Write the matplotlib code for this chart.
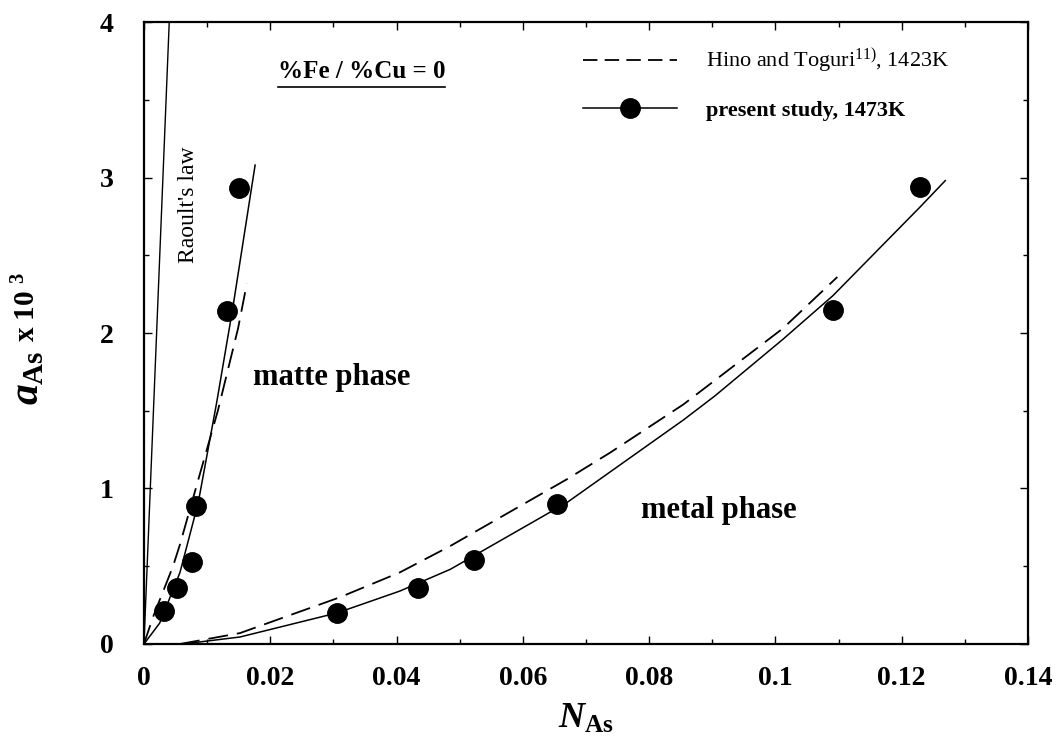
import matplotlib
matplotlib.use('Agg')
import matplotlib.pyplot as plt
from matplotlib.lines import Line2D
from matplotlib.ticker import MultipleLocator

plt.rcParams['font.family'] = 'Liberation Serif'
plt.rcParams['mathtext.fontset'] = 'custom'
plt.rcParams['mathtext.rm'] = 'Liberation Serif:bold'
plt.rcParams['mathtext.it'] = 'Liberation Serif:italic:bold'
plt.rcParams['mathtext.bf'] = 'Liberation Serif:bold'
plt.rcParams['mathtext.sf'] = 'Liberation Serif'

# measured activities (a_As x 10^3) against mole fraction N_As
N_matte = [0.0032, 0.0052, 0.0076, 0.0082, 0.0131, 0.0150]
a_matte = [0.21, 0.36, 0.53, 0.89, 2.14, 2.93]
N_metal = [0.0306, 0.0434, 0.0523, 0.0654, 0.1091, 0.1229]
a_metal = [0.20, 0.36, 0.54, 0.90, 2.15, 2.94]

# fitted curves, present study (solid)
N_matte_fit = [0, 0.0025, 0.0057, 0.0086, 0.0115, 0.0141, 0.0176]
a_matte_fit = [0, 0.135, 0.46, 0.91, 1.55, 2.17, 3.08]
N_metal_fit = [0.0062, 0.0152, 0.0306, 0.0405, 0.0485, 0.067, 0.0854, 0.0904, 0.1012, 0.1091, 0.1229, 0.1269]
a_metal_fit = [0, 0.045, 0.20, 0.34, 0.48, 0.91, 1.44, 1.595, 1.96, 2.24, 2.81, 2.98]

# Hino and Toguri (dashed)
N_matte_ht = [0, 0.0014, 0.0046, 0.0057, 0.0089, 0.0117, 0.0149, 0.0163]
a_matte_ht = [0, 0.17, 0.50, 0.64, 1.10, 1.50, 2.03, 2.32]
N_metal_ht = [0.0057, 0.0152, 0.031, 0.0405, 0.0485, 0.067, 0.0738, 0.0854, 0.1012, 0.1098]
a_metal_ht = [0, 0.07, 0.30, 0.46, 0.63, 1.06, 1.23, 1.54, 2.03, 2.36]

# Raoult's law, a = N
N_raoult = [0, 0.004]
a_raoult = [0, 4.0]

fig = plt.figure(figsize=(10.61, 7.49), dpi=100)
ax = fig.add_axes([0.1357, 0.1402, 0.8332, 0.8304])

dash = (0, (11, 5))
ax.plot(N_raoult, a_raoult, color='black', lw=1.0)
ax.plot(N_matte_fit, a_matte_fit, color='black', lw=1.1)
ax.plot(N_metal_fit, a_metal_fit, color='black', lw=1.1)
ax.plot(N_matte_ht, a_matte_ht, color='black', lw=1.3, linestyle=dash)
ax.plot(N_metal_ht, a_metal_ht, color='black', lw=1.3, linestyle=dash)
ax.plot(N_matte, a_matte, 'o', color='black', ms=14)
ax.plot(N_metal, a_metal, 'o', color='black', ms=14)

ax.set_xlim(0, 0.14)
ax.set_ylim(0, 4)
ax.xaxis.set_major_locator(MultipleLocator(0.02))
ax.xaxis.set_minor_locator(MultipleLocator(0.01))
ax.yaxis.set_major_locator(MultipleLocator(1))
ax.yaxis.set_minor_locator(MultipleLocator(0.5))
ax.set_xticks([0, 0.02, 0.04, 0.06, 0.08, 0.1, 0.12, 0.14])
ax.set_xticklabels(['0', '0.02', '0.04', '0.06', '0.08', '0.1', '0.12', '0.14'])
ax.tick_params(which='both', direction='in', top=True, right=True, width=1)
ax.tick_params(which='major', length=6, labelsize=20, pad=16)
ax.tick_params(axis='y', which='major', pad=22)
ax.tick_params(which='minor', length=3.5)
for lbl in ax.get_xticklabels() + ax.get_yticklabels():
    lbl.set_fontweight('bold')
for sp in ax.spines.values():
    sp.set_linewidth(1.6)

ax.set_xlabel(r'$N_{\mathrm{As}}$', fontsize=26, labelpad=8)

# y label in two pieces, the symbol larger than the factor
fig.text(38 / 1061, 1 - 405 / 749, r'$a_{\mathrm{As}}$', fontsize=30, rotation=90,
         rotation_mode='anchor', ha='left', va='baseline')
fig.text(35 / 1061, 1 - 342 / 749, r'x 10 $^{\mathrm{3}}$', fontsize=21, fontweight='bold',
         rotation=90, rotation_mode='anchor', ha='left', va='baseline')

# annotations
t = ax.text(0.1516, 0.910, '%Fe / %Cu = 0', transform=ax.transAxes, fontsize=18,
            fontweight='bold', ha='left', va='baseline')
fig.canvas.draw()
bb = t.get_window_extent().transformed(ax.transAxes.inverted())
ax.plot([bb.x0, bb.x1], [0.896, 0.896], transform=ax.transAxes, color='black', lw=1.2)

ax.text(0.0498, 0.706, "Raoult's law", transform=ax.transAxes, fontsize=17,
        rotation=90, ha='center', va='center')
ax.text(0.2127, 0.4277, 'matte phase', transform=ax.transAxes, fontsize=22,
        fontweight='bold', ha='center', va='center')
ax.text(0.650, 0.2154, 'metal phase', transform=ax.transAxes, fontsize=22,
        fontweight='bold', ha='center', va='center')

handles = [
    Line2D([], [], color='black', lw=1.3, linestyle=(0, (8, 4))),
    Line2D([], [], color='black', lw=1.1, marker='o', ms=14),
]
labels = [r'Hino and Toguri$^{\mathsf{11)}}$, 1423K', 'present study, 1473K']
leg = ax.legend(handles, labels, loc='upper left', bbox_to_anchor=(0.497, 0.960),
                frameon=False, fontsize=16, handlelength=4.2, handletextpad=1.3,
                labelspacing=1.1, borderpad=0, borderaxespad=0)
leg.get_texts()[1].set_fontweight('bold')

fig.savefig('out.png', dpi=100)
